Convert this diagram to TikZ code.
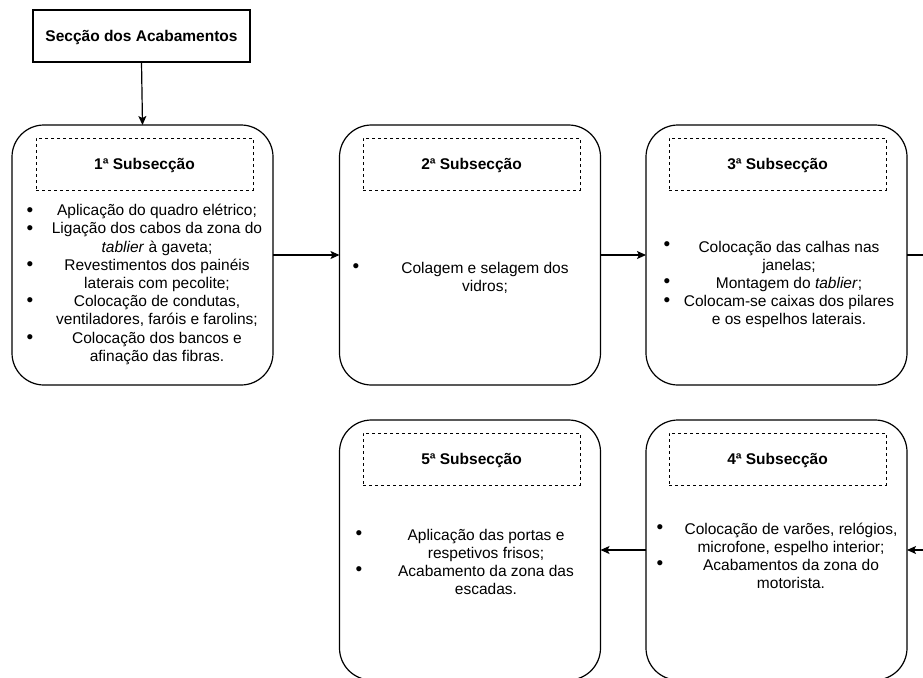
\documentclass[tikz,border=0pt]{standalone}
\usepackage{fontspec}
\setmainfont{Liberation Sans}
\usetikzlibrary{arrows.meta}
\begin{document}
\begin{tikzpicture}[x=1pt,y=-1pt,
  every node/.style={inner sep=0pt,outer sep=0pt},
  bodyfont/.style={font=\fontsize{15.5}{18.2}\selectfont},
  headfont/.style={font=\fontsize{15.5}{18}\selectfont\bfseries,text height=13pt,text depth=2pt},
  bigbox/.style={draw,line width=1.2pt,rounded corners=32pt,minimum width=261pt,minimum height=260pt},
  headbox/.style={draw,dashed,line width=1pt,minimum width=217pt,minimum height=52pt,headfont},
  titlebox/.style={draw,line width=1.2pt,minimum width=217pt,minimum height=52pt,headfont},
  bodytext/.style={bodyfont,align=center},
  bul/.style={font=\fontsize{19}{19}\selectfont},
  arr/.style={line width=1.2pt,-{Stealth[length=9pt,width=8pt,inset=2pt]}},
  plain/.style={line width=1.2pt}]
\useasboundingbox (0,0) rectangle (923,677);
\fill[white] (0,0) rectangle (923,677);
\clip (0,0) rectangle (923,677);

% title
\node[titlebox] (t) at (141.5,36) {Secção dos Acabamentos};

% big boxes
\node[bigbox] (b1) at (142.5,255) {};
\node[bigbox] (b2) at (470,255) {};
\node[bigbox] (b3) at (776.5,255) {};
\node[bigbox] (b5) at (470,550) {};
\node[bigbox] (b4) at (776.5,550) {};

% headers
\node[headbox] (h1) at (144.5,164) {1ª Subsecção};
\node[headbox] (h2) at (471.5,164) {2ª Subsecção};
\node[headbox] (h3) at (777.5,164) {3ª Subsecção};
\node[headbox] (h5) at (471.5,459) {5ª Subsecção};
\node[headbox] (h4) at (777.5,459) {4ª Subsecção};

% box 1 text
\node[bodytext] (x1) at (157,284.5) {Aplicação do quadro elétrico;\\Ligação dos cabos da zona do\\\textit{tablier} à gaveta;\\Revestimentos dos painéis\\laterais com pecolite;\\Colocação de condutas,\\ventiladores, faróis e farolins;\\Colocação dos bancos e\\afinação das fibras.};
\node[bul] (p11) at (30,212) {•};
\node[bul] (p12) at (30,230) {•};
\node[bul] (p13) at (30,266.5) {•};
\node[bul] (p14) at (30,302.5) {•};
\node[bul] (p15) at (30,339) {•};

% box 2 text
\node[bodytext] (x2) at (485,277.5) {Colagem e selagem dos\\vidros;};
\node[bul] (p21) at (356,268) {•};

% box 3 text
\node[bodytext] (x3) at (789,284.5) {Colocação das calhas nas\\janelas;\\Montagem do \textit{tablier};\\Colocam-se caixas dos pilares\\e os espelhos laterais.};
\node[bul] (p31) at (667,246.5) {•};
\node[bul] (p32) at (667,283.5) {•};
\node[bul] (p33) at (667,302) {•};

% box 5 text
\node[bodytext] (x5) at (486,562) {Aplicação das portas e\\respetivos frisos;\\Acabamento da zona das\\escadas.};
\node[bul] (p51) at (359,535) {•};
\node[bul] (p52) at (359,571) {•};

% box 4 text
\node[bodytext] (x4) at (791,556) {Colocação de varões, relógios,\\microfone, espelho interior;\\Acabamentos da zona do\\motorista.};
\node[bul] (p41) at (660,529) {•};
\node[bul] (p42) at (660,565.5) {•};

% connectors
\coordinate (e1) at (923,255);
\coordinate (e2) at (923,550);
\draw[arr] (t.south) -- (b1.north);
\draw[arr] (b1.east) -- (b2.west);
\draw[arr] (b2.east) -- (b3.west);
\draw[plain] (b3.east) -- (e1);
\draw[arr] (e2) -- (b4.east);
\draw[arr] (b4.west) -- (b5.east);
\end{tikzpicture}
\end{document}
